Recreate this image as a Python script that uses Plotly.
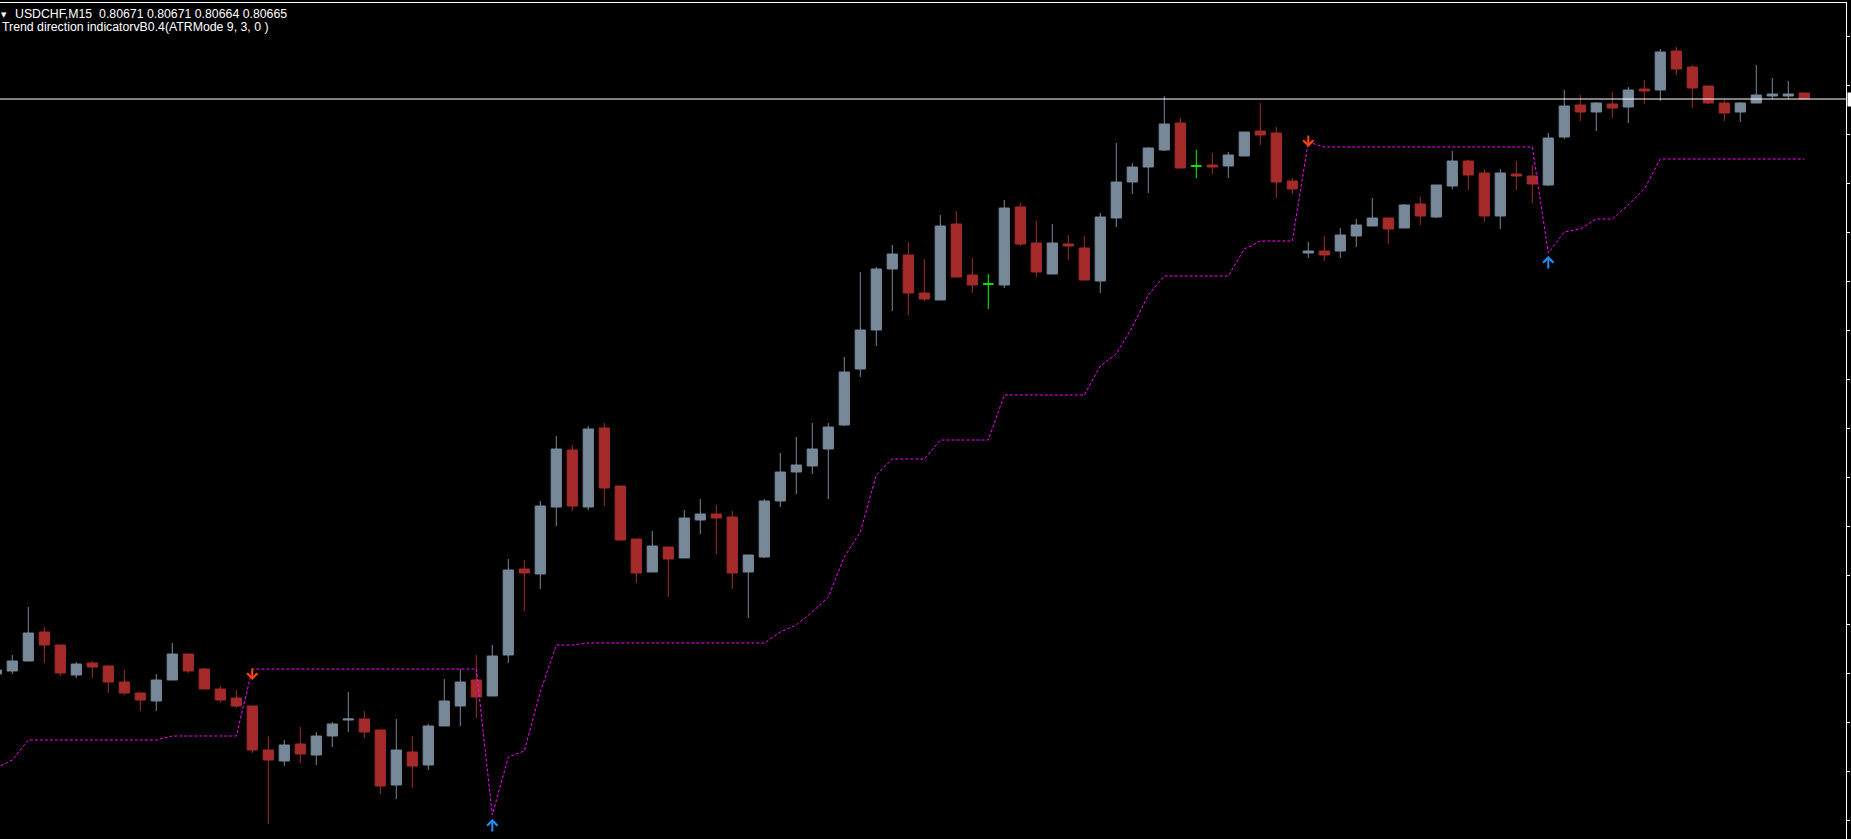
import plotly.graph_objects as go

symbol_label = "USDCHF,M15  0.80671 0.80671 0.80664 0.80665"
indicator_label = "Trend direction indicatorvB0.4(ATRMode 9, 3, 0 )"

opens = [
    0.80090, 0.80093, 0.80103, 0.80132, 0.80119, 0.80089, 0.80101, 0.80098, 0.80082, 0.80071,
    0.80063, 0.80084, 0.80110, 0.80095, 0.80075, 0.80066, 0.80058, 0.80014, 0.80003, 0.80020,
    0.80009, 0.80028, 0.80044, 0.80045, 0.80034, 0.79979, 0.80012, 0.79999, 0.80038, 0.80058,
    0.80084, 0.80068, 0.80109, 0.80195, 0.80190, 0.80257, 0.80314, 0.80257, 0.80336, 0.80278,
    0.80225, 0.80192, 0.80217, 0.80206, 0.80244, 0.80250, 0.80247, 0.80192, 0.80207, 0.80263,
    0.80292, 0.80298, 0.80315, 0.80339, 0.80395, 0.80434, 0.80495, 0.80509, 0.80471, 0.80464,
    0.80540, 0.80489, 0.80480, 0.80479, 0.80557, 0.80521, 0.80490, 0.80520, 0.80516, 0.80483,
    0.80546, 0.80582, 0.80597, 0.80614, 0.80641, 0.80598, 0.80599, 0.80598, 0.80608, 0.80633,
    0.80631, 0.80583, 0.80511, 0.80513, 0.80513, 0.80528, 0.80538, 0.80546, 0.80536, 0.80560,
    0.80547, 0.80578, 0.80603, 0.80591, 0.80548, 0.80590, 0.80588, 0.80579, 0.80627, 0.80659,
    0.80652, 0.80660, 0.80657, 0.80675, 0.80674, 0.80713, 0.80697, 0.80678, 0.80661, 0.80652,
    0.80661, 0.80668, 0.80668, 0.80671,
]
highs = [
    0.80097, 0.80109, 0.80157, 0.80137, 0.80119, 0.80102, 0.80103, 0.80099, 0.80094, 0.80071,
    0.80090, 0.80121, 0.80110, 0.80096, 0.80078, 0.80074, 0.80058, 0.80028, 0.80024, 0.80037,
    0.80032, 0.80042, 0.80072, 0.80053, 0.80034, 0.80045, 0.80028, 0.80040, 0.80085, 0.80095,
    0.80109, 0.80119, 0.80205, 0.80204, 0.80263, 0.80328, 0.80319, 0.80338, 0.80341, 0.80278,
    0.80225, 0.80233, 0.80217, 0.80254, 0.80265, 0.80259, 0.80253, 0.80209, 0.80265, 0.80311,
    0.80327, 0.80341, 0.80341, 0.80407, 0.80492, 0.80497, 0.80519, 0.80522, 0.80505, 0.80549,
    0.80553, 0.80506, 0.80490, 0.80564, 0.80561, 0.80543, 0.80540, 0.80529, 0.80528, 0.80551,
    0.80621, 0.80601, 0.80617, 0.80668, 0.80646, 0.80614, 0.80611, 0.80612, 0.80632, 0.80661,
    0.80637, 0.80586, 0.80522, 0.80528, 0.80536, 0.80545, 0.80566, 0.80546, 0.80560, 0.80567,
    0.80579, 0.80613, 0.80604, 0.80595, 0.80595, 0.80603, 0.80599, 0.80631, 0.80674, 0.80669,
    0.80662, 0.80672, 0.80677, 0.80684, 0.80715, 0.80717, 0.80699, 0.80678, 0.80664, 0.80662,
    0.80699, 0.80686, 0.80683, 0.80671,
]
lows = [
    0.80087, 0.80090, 0.80103, 0.80101, 0.80088, 0.80086, 0.80086, 0.80071, 0.80069, 0.80053,
    0.80053, 0.80084, 0.80091, 0.80075, 0.80061, 0.80056, 0.80011, 0.79940, 0.79998, 0.80001,
    0.79999, 0.80017, 0.80032, 0.80026, 0.79970, 0.79965, 0.79976, 0.79994, 0.80038, 0.80038,
    0.80046, 0.80068, 0.80101, 0.80153, 0.80175, 0.80238, 0.80253, 0.80254, 0.80258, 0.80224,
    0.80181, 0.80192, 0.80167, 0.80206, 0.80230, 0.80210, 0.80175, 0.80146, 0.80206, 0.80257,
    0.80270, 0.80290, 0.80265, 0.80338, 0.80387, 0.80418, 0.80453, 0.80449, 0.80463, 0.80464,
    0.80487, 0.80471, 0.80455, 0.80476, 0.80518, 0.80487, 0.80490, 0.80504, 0.80484, 0.80471,
    0.80537, 0.80570, 0.80571, 0.80613, 0.80596, 0.80586, 0.80590, 0.80586, 0.80608, 0.80619,
    0.80566, 0.80570, 0.80506, 0.80503, 0.80506, 0.80517, 0.80538, 0.80520, 0.80536, 0.80539,
    0.80546, 0.80575, 0.80574, 0.80542, 0.80535, 0.80574, 0.80561, 0.80578, 0.80625, 0.80643,
    0.80633, 0.80646, 0.80641, 0.80660, 0.80663, 0.80689, 0.80656, 0.80660, 0.80643, 0.80642,
    0.80661, 0.80665, 0.80665, 0.80664,
]
closes = [
    0.80094, 0.80103, 0.80131, 0.80119, 0.80091, 0.80100, 0.80097, 0.80082, 0.80071, 0.80064,
    0.80084, 0.80110, 0.80093, 0.80075, 0.80064, 0.80058, 0.80014, 0.80004, 0.80019, 0.80010,
    0.80028, 0.80040, 0.80045, 0.80032, 0.79978, 0.80014, 0.79998, 0.80038, 0.80063, 0.80082,
    0.80067, 0.80108, 0.80194, 0.80191, 0.80258, 0.80315, 0.80258, 0.80335, 0.80276, 0.80224,
    0.80191, 0.80218, 0.80205, 0.80246, 0.80250, 0.80246, 0.80191, 0.80209, 0.80263, 0.80292,
    0.80299, 0.80315, 0.80337, 0.80392, 0.80434, 0.80495, 0.80510, 0.80471, 0.80465, 0.80538,
    0.80487, 0.80479, 0.80480, 0.80556, 0.80520, 0.80492, 0.80521, 0.80518, 0.80484, 0.80547,
    0.80582, 0.80597, 0.80616, 0.80640, 0.80596, 0.80598, 0.80597, 0.80609, 0.80632, 0.80629,
    0.80582, 0.80575, 0.80513, 0.80509, 0.80529, 0.80539, 0.80546, 0.80535, 0.80559, 0.80548,
    0.80579, 0.80603, 0.80589, 0.80548, 0.80591, 0.80588, 0.80580, 0.80626, 0.80658, 0.80652,
    0.80661, 0.80656, 0.80674, 0.80673, 0.80712, 0.80695, 0.80676, 0.80661, 0.80651, 0.80661,
    0.80669, 0.80670, 0.80670, 0.80665,
]
trend_line = [
    0.79996, 0.80004, 0.80024, 0.80024, 0.80024, 0.80024, 0.80024, 0.80024, 0.80024, 0.80024,
    0.80024, 0.80028, 0.80028, 0.80028, 0.80028, 0.80028, 0.80095, 0.80095, 0.80095, 0.80095,
    0.80095, 0.80095, 0.80095, 0.80095, 0.80095, 0.80095, 0.80095, 0.80095, 0.80095, 0.80095,
    0.80095, 0.79949, 0.80007, 0.80013, 0.80072, 0.80119, 0.80119, 0.80121, 0.80121, 0.80121,
    0.80121, 0.80121, 0.80121, 0.80121, 0.80121, 0.80121, 0.80121, 0.80121, 0.80121, 0.80132,
    0.80139, 0.80152, 0.80167, 0.80207, 0.80232, 0.80289, 0.80305, 0.80305, 0.80305, 0.80324,
    0.80324, 0.80324, 0.80324, 0.80369, 0.80369, 0.80369, 0.80369, 0.80369, 0.80369, 0.80398,
    0.80410, 0.80437, 0.80469, 0.80488, 0.80488, 0.80488, 0.80488, 0.80488, 0.80515, 0.80523,
    0.80523, 0.80523, 0.80622, 0.80617, 0.80617, 0.80617, 0.80617, 0.80617, 0.80617, 0.80617,
    0.80617, 0.80617, 0.80617, 0.80617, 0.80617, 0.80617, 0.80617, 0.80511, 0.80532, 0.80535,
    0.80545, 0.80545, 0.80559, 0.80575, 0.80605, 0.80605, 0.80605, 0.80605, 0.80605, 0.80605,
    0.80605, 0.80605, 0.80605, 0.80605,
]
# trend-change signals: bar number and price at the arrow tip
down_arrow_bars = [16, 82]
down_arrow_tips = [0.80084, 0.80617]
up_arrow_bars = [31, 97]
up_arrow_tips = [0.79945, 0.80508]
bid_price = 0.80665

bars = list(range(len(opens)))

BULL = "#778899"
BEAR = "#A52A2A"
DOJI = "#00FF00"


def subset(cond):
    idx = [k for k in bars if cond(opens[k], closes[k])]
    return dict(
        x=idx,
        open=[opens[k] for k in idx],
        high=[highs[k] for k in idx],
        low=[lows[k] for k in idx],
        close=[closes[k] for k in idx],
    )


fig = go.Figure()
for cond, col in [
    (lambda o, c: c > o, BULL),
    (lambda o, c: c < o, BEAR),
    (lambda o, c: c == o, DOJI),
]:
    fig.add_trace(go.Candlestick(
        **subset(cond),
        increasing=dict(line=dict(color=col, width=1), fillcolor=col),
        decreasing=dict(line=dict(color=col, width=1), fillcolor=col),
        whiskerwidth=0,
        hoverinfo="skip",
    ))

fig.add_trace(go.Scatter(
    x=bars, y=trend_line, mode="lines",
    line=dict(color="#FF00FF", width=1, dash="3px,2px"),
    hoverinfo="skip",
))

# signal arrows (chevron-headed, like the terminal's arrow glyphs)
for bx, tip in zip(down_arrow_bars, down_arrow_tips):
    fig.add_annotation(x=bx, y=tip, xref="x", yref="y", text="", showarrow=True,
                       arrowhead=4, arrowsize=1, arrowwidth=2, arrowcolor="#FF4500",
                       ax=0, ay=-13, standoff=0, startstandoff=0)
for bx, tip in zip(up_arrow_bars, up_arrow_tips):
    fig.add_annotation(x=bx, y=tip, xref="x", yref="y", text="", showarrow=True,
                       arrowhead=4, arrowsize=1, arrowwidth=2, arrowcolor="#1E90FF",
                       ax=0, ay=14, standoff=0, startstandoff=0)

fig.add_shape(type="line", xref="paper", x0=0, x1=1, yref="y", y0=bid_price, y1=bid_price,
              line=dict(color="white", width=1))

fig.add_annotation(x=1, xref="paper", xanchor="left", xshift=1, y=bid_price, yref="y",
                   text=" ", showarrow=False, bgcolor="white", width=4, height=13, borderpad=0)

fig.add_annotation(x=0, xref="paper", xanchor="left", xshift=-1, y=1, yref="paper", yanchor="top", yshift=-6,
                   text="\u25BC", showarrow=False, font=dict(family="DejaVu Sans", size=7, color="white"))
fig.add_annotation(x=0, xref="paper", xanchor="left", xshift=13, y=1, yref="paper", yanchor="top", yshift=-2,
                   text=symbol_label, showarrow=False,
                   font=dict(family="Liberation Sans, Arial", size=12.3, color="white"))
fig.add_annotation(x=0, xref="paper", xanchor="left", xshift=0, y=1, yref="paper", yanchor="top", yshift=-15,
                   text=indicator_label, showarrow=False,
                   font=dict(family="Liberation Sans, Arial", size=12.3, color="white"))

fig.update_layout(
    width=1851, height=839,
    margin=dict(l=0, r=5, t=3, b=0, pad=0),
    paper_bgcolor="black", plot_bgcolor="black",
    showlegend=False, hovermode=False,
    boxmode="overlay", boxgap=0.2, boxgroupgap=0.2,
    xaxis=dict(range=[0.231, 115.606], side="top", showline=True, linecolor="white", linewidth=1,
               showgrid=False, zeroline=False, showticklabels=False, ticks="",
               rangeslider=dict(visible=False)),
    yaxis=dict(range=[0.79925, 0.80761], side="right", showline=True, linecolor="white", linewidth=1,
               ticks="outside", ticklen=3, tickwidth=1, tickcolor="white", tick0=0.80728, dtick=0.00049,
               showticklabels=False, showgrid=False, zeroline=False),
)

fig.write_html(
    "out.html",
    config={"displayModeBar": False},
    post_script="document.body.style.margin='0';document.body.style.background='black';"
                "document.documentElement.style.overflow='hidden';",
)
